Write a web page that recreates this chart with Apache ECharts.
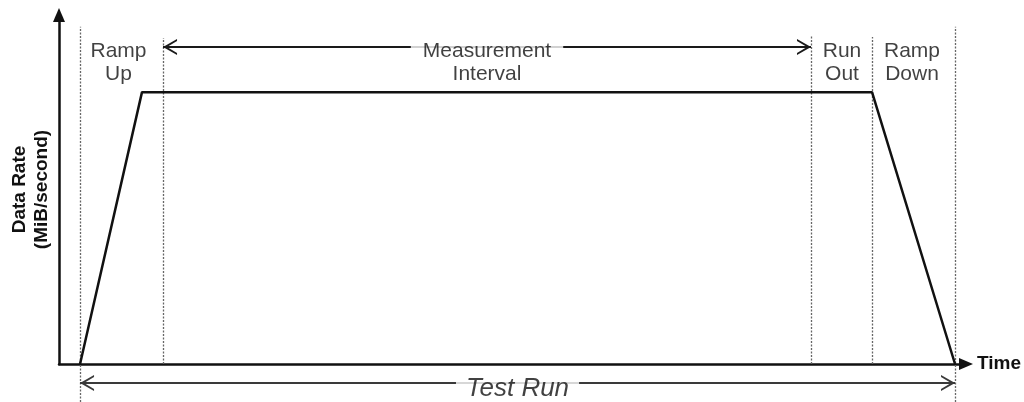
<!DOCTYPE html>
<html>
<head>
<meta charset="utf-8">
<script src="https://cdn.jsdelivr.net/npm/echarts@6/dist/echarts.min.js"></script>
<style>
html,body{margin:0;padding:0;background:#fff;}
#chart{width:1024px;height:402px;}
</style>
</head>
<body>
<div id="chart"></div>
<script>
// Time axis in arbitrary units (0-100), data rate in arbitrary units (0-100)
const phaseBounds   = [2.32, 11.47, 82.91, 89.64, 98.79];
const boundTops     = [96.6, 93.4, 94.3, 93.7, 96.6];
const boundBottoms  = [-10.9, 0, 0, 0, -10.9];
const profileTime   = [2.32, 9.15, 89.64, 98.79];
const profileRate   = [0, 77.9, 77.9, 0];
const phaseLabels   = ['Ramp\nUp', 'Run\nOut', 'Ramp\nDown'];
const phaseLabelX   = [6.56, 86.33, 94.05];
const phaseLabelY   = 86.2;
const measureLabel  = 'Measurement\nInterval';
const measureArrowY = 90.83;
const testRunLabel  = 'Test Run';
const testRunArrowY = -5.44;
const testRunLabelY = -7.0;

const FONT = '"Liberation Sans", Arial, sans-serif';
const chevron = 'path://M10,-12 L10,-12 M0,12 L10,0 L20,12 L17.4,12 L10,3.4 L2.6,12 Z';

const chart = echarts.init(document.getElementById('chart'), null, {renderer: 'canvas'});

const boundaryLines = phaseBounds.map((x, i) => ({
  coords: [[x, boundBottoms[i]], [x, boundTops[i]]]
}));

const measureMid = (phaseBounds[1] + phaseBounds[2]) / 2;
const testMid = (phaseBounds[0] + phaseBounds[4]) / 2;

const labelData = phaseLabels.map((t, i) => ({value: [phaseLabelX[i], phaseLabelY], name: t}));

const option = {
  animation: false,
  backgroundColor: '#fff',
  grid: {left: 59, right: 58, top: 15, bottom: 38},
  xAxis: {
    type: 'value', min: 0, max: 100,
    name: 'Time', nameLocation: 'end', nameGap: 11,
    nameTextStyle: {fontFamily: FONT, fontWeight: 'bold', fontSize: 19, color: '#111', padding: [8, 0, 0, 0]},
    axisLine: {show: true, symbol: ['none', 'triangle'], symbolSize: [12, 14], lineStyle: {color: '#111', width: 2.5}},
    axisTick: {show: false}, axisLabel: {show: false}, splitLine: {show: false}
  },
  yAxis: {
    type: 'value', min: 0, max: 100,
    name: 'Data Rate\n(MiB/second)', nameLocation: 'middle', nameGap: 6,
    nameTextStyle: {fontFamily: FONT, fontWeight: 'bold', fontSize: 19, lineHeight: 22, color: '#111'},
    axisLine: {show: true, symbol: ['none', 'triangle'], symbolSize: [12, 14], lineStyle: {color: '#111', width: 2.5}},
    axisTick: {show: false}, axisLabel: {show: false}, splitLine: {show: false}
  },
  series: [
    {
      name: 'boundaries', type: 'lines', coordinateSystem: 'cartesian2d', clip: false, z: 1,
      silent: true, symbol: ['none', 'none'],
      lineStyle: {type: [2, 1.5], color: '#666', width: 1.3, opacity: 1},
      data: boundaryLines
    },
    {
      name: 'profile', type: 'line', clip: false, z: 3,
      data: profileTime.map((t, i) => [t, profileRate[i]]),
      symbol: 'none',
      lineStyle: {color: '#111', width: 2.5}
    },
    {
      name: 'arrows', type: 'lines', coordinateSystem: 'cartesian2d', clip: false, z: 2,
      silent: true, symbol: [chevron, chevron], symbolSize: [[16, 28], [16, 28]],
      lineStyle: {opacity: 1, type: 'solid'},
      data: [
        {coords: [[phaseBounds[1], measureArrowY], [phaseBounds[2], measureArrowY]], lineStyle: {color: '#1a1a1a', width: 2}},
        {coords: [[phaseBounds[0], testRunArrowY], [phaseBounds[4], testRunArrowY]], lineStyle: {color: '#3a3a3a', width: 2.2}}
      ]
    },
    {
      name: 'phaseLabels', type: 'scatter', clip: false, z: 10,
      symbolSize: 1, itemStyle: {color: 'rgba(0,0,0,0)'},
      data: labelData,
      label: {show: true, position: 'inside', formatter: '{b}', fontFamily: FONT, fontSize: 21, lineHeight: 23, color: '#111', align: 'center', verticalAlign: 'middle'}
    },
    {
      name: 'measureLabel', type: 'scatter', clip: false, z: 10,
      symbolSize: 1, itemStyle: {color: 'rgba(0,0,0,0)'},
      data: [{value: [measureMid, phaseLabelY], name: measureLabel}],
      label: {show: true, position: 'inside', formatter: '{b}', fontFamily: FONT, fontSize: 21, lineHeight: 23, color: '#111',
        align: 'center', verticalAlign: 'middle', backgroundColor: '#fff', padding: [0, 12, 0, 12]}
    },
    {
      name: 'testRunLabel', type: 'scatter', clip: false, z: 10,
      symbolSize: 1, itemStyle: {color: 'rgba(0,0,0,0)'},
      data: [{value: [testMid, testRunLabelY], name: testRunLabel}],
      label: {show: true, position: 'inside', formatter: '{b}', fontFamily: FONT, fontSize: 26, fontStyle: 'italic', color: '#111',
        align: 'center', verticalAlign: 'middle', backgroundColor: '#fff', padding: [0, 10, 0, 10]}
    }
  ]
};
chart.setOption(option);
</script>
</body>
</html>
